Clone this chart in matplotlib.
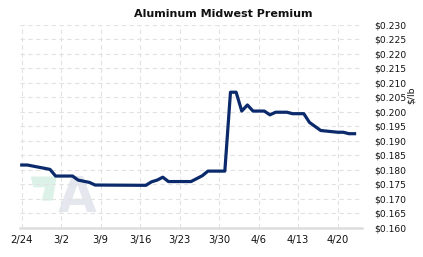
import numpy as np
import pandas as pd
import matplotlib
matplotlib.use("Agg")
from matplotlib import pyplot as plt
from matplotlib.patches import Polygon

# Aluminum Midwest Premium, $/lb
dates = pd.to_datetime([
	"2020-02-24", "2020-02-25", "2020-02-29", "2020-03-01", "2020-03-04",
	"2020-03-05", "2020-03-07", "2020-03-08", "2020-03-17", "2020-03-18",
	"2020-03-19", "2020-03-20", "2020-03-21", "2020-03-25", "2020-03-27",
	"2020-03-28", "2020-03-31", "2020-04-01", "2020-04-02", "2020-04-03",
	"2020-04-04", "2020-04-05", "2020-04-07", "2020-04-08", "2020-04-09",
	"2020-04-11", "2020-04-12", "2020-04-14", "2020-04-15", "2020-04-17",
	"2020-04-20", "2020-04-21", "2020-04-22", "2020-04-23",
])
prices = [
	0.1817, 0.1817, 0.1802, 0.1779, 0.1779,
	0.1765, 0.1757, 0.1748, 0.1747, 0.1759,
	0.1765, 0.1775, 0.1760, 0.1760, 0.1780,
	0.1796, 0.1796, 0.2068, 0.2068, 0.2003,
	0.2024, 0.2003, 0.2003, 0.1990, 0.1999,
	0.1999, 0.1994, 0.1994, 0.1964, 0.1936,
	0.1930, 0.1930, 0.1925, 0.1925,
]
tick_dates = pd.to_datetime(["2020-02-24", "2020-03-02", "2020-03-09", "2020-03-16",
	"2020-03-23", "2020-03-30", "2020-04-06", "2020-04-13", "2020-04-20"])
tick_labels = ["2/24", "3/2", "3/9", "3/16", "3/23", "3/30", "4/6", "4/13", "4/20"]
y_ticks = np.arange(0.160, 0.2301, 0.005)

fig = plt.figure(figsize=(4.23, 2.57), dpi=100)
ax = fig.add_axes([0.047, 0.113, 0.809, 0.79])

# faint logo watermark
ax.add_patch(Polygon([(0.034, 0.25), (0.105, 0.25), (0.094, 0.138), (0.066, 0.138), (0.076, 0.204), (0.041, 0.204)],
	closed=True, transform=ax.transAxes, color="#dcf2e8", zorder=0))
ax.text(0.168, 0.03, "A", transform=ax.transAxes, fontsize=36, fontweight="bold",
	color="#e4e7ed", ha="center", va="bottom", zorder=0)

ax.plot(dates, prices, color="#0b2a6b", linewidth=2.3, solid_joinstyle="round", zorder=3)

ax.set_xlim(pd.Timestamp("2020-02-23 16:00"), pd.Timestamp("2020-04-24 08:00"))
ax.set_ylim(0.160, 0.230)
ax.set_xticks(tick_dates)
ax.set_xticklabels(tick_labels)
ax.set_yticks(y_ticks)
ax.set_yticklabels(["${:.3f}".format(v) for v in y_ticks])

ax.yaxis.tick_right()
ax.tick_params(axis="both", length=0, labelsize=7.2, colors="#111111")
ax.tick_params(axis="y", labelsize=6.6, pad=9)
ax.tick_params(axis="x", pad=5)
fig.text(0.973, 0.628, "$/lb", rotation=90, ha="center", va="center", fontsize=6.6, color="#111111")

ax.grid(True, color="#e2e2e2", linestyle=(0, (4, 3)), linewidth=0.8)
ax.set_axisbelow(True)
for side in ["top", "left", "right"]:
	ax.spines[side].set_visible(False)
ax.spines["bottom"].set_color("#dddddd")
ax.spines["bottom"].set_linewidth(1.8)

fig.text(0.527, 0.945, "Aluminum Midwest Premium", ha="center", va="center",
	fontsize=8, fontweight="bold", color="#111111")

plt.savefig("out.png", dpi=100)
